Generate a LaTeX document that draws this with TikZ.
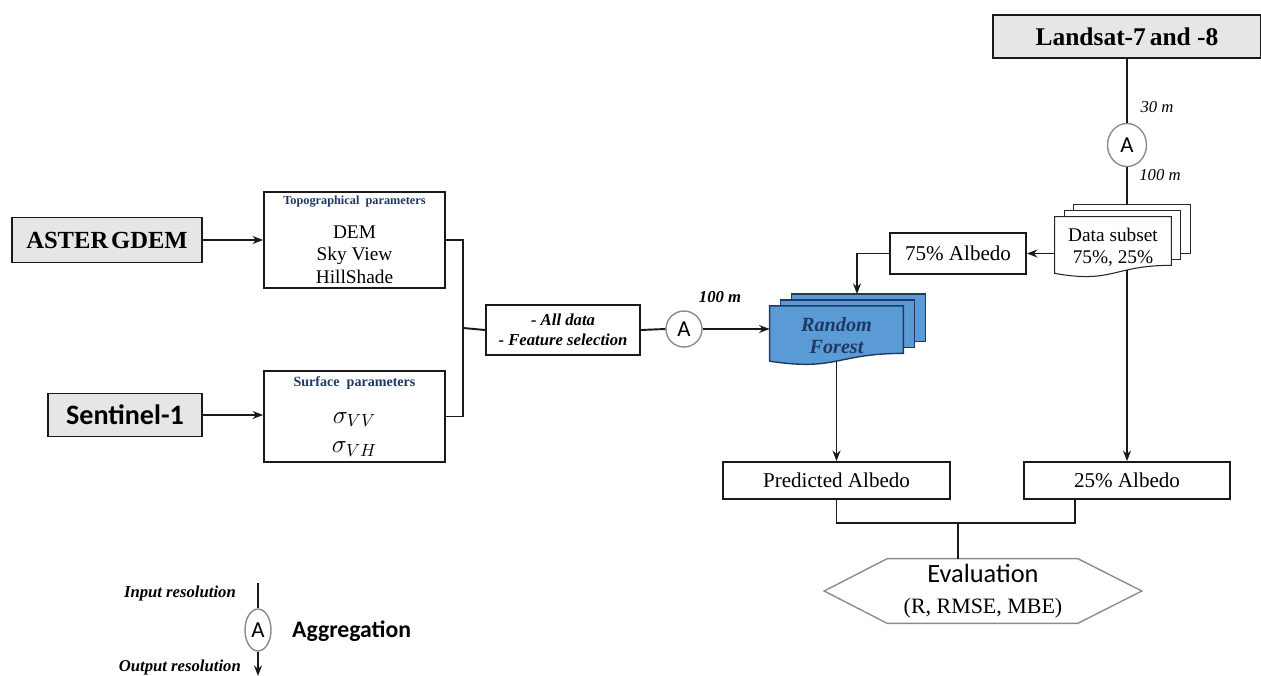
\documentclass[tikz,border=0pt]{standalone}
\usepackage{fontspec}
\setmainfont{Liberation Serif}
\newfontfamily\calibri{Carlito}
\usepackage{xcolor}
\usetikzlibrary{arrows.meta}
\usetikzlibrary{positioning}
\usetikzlibrary{calc}
\usetikzlibrary{shapes.geometric}
\usetikzlibrary{backgrounds}
\definecolor{srcgray}{HTML}{E7E6E6}
\definecolor{rfblue}{HTML}{5B9BD5}
\definecolor{navy}{HTML}{1F3864}
\definecolor{ringgray}{HTML}{8C8C8C}
\newcommand{\fsz}[2]{\fontsize{#1}{#2}\selectfont}
% stacked document shape round an invisible node: #1 node, #2/#3 offset, #4 look
\newcommand{\multidoc}[4]{%
  \foreach \k in {2,1} {
    \draw[#4] ($(#1.north west)+(\k*#2,\k*#3)$) rectangle ($(#1.north east)!0.802!(#1.south east)+(\k*#2,\k*#3)$);
  }
  \draw[#4] (#1.north west) -- (#1.north east) -- ($(#1.north east)!0.802!(#1.south east)$)
    .. controls ($(#1.north)!0.802!(#1.south)$) and ($(#1.north)!1.107!(#1.south)$) .. ($(#1.north west)!0.934!(#1.south west)$) -- cycle;
}

\begin{document}
\begin{tikzpicture}[x=0.02cm, y=-0.02cm,
    conn/.style={line width=1.1pt, draw=black!90},
    arr/.style={conn, -{Stealth[length=6pt,width=4.5pt]}},
    plainbox/.style={draw=black!90, line width=1pt, fill=white, inner sep=1pt, align=center},
    srcbox/.style={plainbox, fill=srcgray, font=\rmfamily\bfseries\fsz{14}{17}},
    docnode/.style={inner sep=0pt, align=center},
    ring/.style={ellipse, draw=ringgray, line width=0.8pt, fill=white, inner sep=0pt, font=\calibri\fsz{13}{15}},
    lbl/.style={font=\itshape\fsz{9.5}{11}},
    lblb/.style={font=\bfseries\itshape\fsz{9.5}{11}}]
  \useasboundingbox (0,0) rectangle (1261,676);

  % input data
  \node[srcbox, minimum width=3.8cm, minimum height=0.9cm] (aster) at (107,240) {ASTER\hspace{0.12em}GDEM};
  \node[srcbox, font=\calibri\bfseries\fsz{16}{19}, minimum width=3.08cm, minimum height=0.86cm] (sent) at (125,415) {Sentinel-1};
  \node[srcbox, font=\rmfamily\bfseries\fsz{14.5}{17}, minimum width=5.36cm, minimum height=0.86cm] (land) at (1127,36.5) {Landsat-7\hspace{0.15em}and -8};

  % parameters
  \node[plainbox, font=\fsz{11}{13}, minimum width=3.62cm, minimum height=1.92cm] (topo) at (354.5,240)
    {{\fsz{7}{8}\color{navy}\textbf{Topographical\ \ parameters}}\\[6pt]DEM\\Sky View\\HillShade};
  \node[plainbox, font=\fsz{14}{17}, minimum width=3.62cm, minimum height=1.82cm] (surf) at (354.5,416.5)
    {{\fsz{8}{9}\color{navy}\textbf{Surface\ \ parameters}}\\[4pt]$\sigma_{VV}$\\$\sigma_{VH}$};
  \coordinate (jL) at (463,328);

  \node[plainbox, font=\bfseries\itshape\fsz{9.5}{11.3}, minimum width=3.08cm, minimum height=1cm] (data) at (563,330)
    {- All data\\- Feature selection};
  \node[ring, minimum width=0.72cm, minimum height=0.72cm] (a1) at (684,329) {A};
  \node[lblb] (res1) at (720,297) {100 m};

  % random forest and data subset
  \node[docnode, font=\bfseries\itshape\fsz{11.5}{12.5}, text=navy, minimum width=2.66cm, minimum height=1.17cm] (rf) at (836.5,335.5) {Random\\Forest};
  \node[docnode, font=\fsz{11}{12.5}, minimum width=2.32cm, minimum height=1.2cm] (ds) at (1113,247) {Data subset\\75\%, 25\%};
  \coordinate (rfTop) at (857,294);
  \coordinate (dsTop) at (1127,205);
  \begin{scope}[on background layer]
    \multidoc{rf}{11}{-6}{fill=rfblue, draw=navy, line width=0.8pt}
    \multidoc{ds}{9.5}{-6}{fill=white, draw=black!85, line width=0.6pt}
  \end{scope}

  \node[ring, minimum width=0.78cm, minimum height=0.86cm] (a2) at (1127,145) {A};
  \node[lbl] (res2) at (1157,107) {30 m};
  \node[lbl] (res3) at (1160,175) {100 m};

  \node[plainbox, font=\fsz{12}{14}, minimum width=2.72cm, minimum height=0.82cm] (alb75) at (958,253.5) {75\% Albedo};
  \node[plainbox, font=\fsz{12}{14}, minimum width=4.54cm, minimum height=0.74cm] (pred) at (836.5,480.5) {Predicted Albedo};
  \node[plainbox, font=\fsz{12}{14}, minimum width=4.12cm, minimum height=0.74cm] (pct25) at (1127,480.5) {25\% Albedo};
  \coordinate (jB) at (958,523);

  % evaluation
  \node[inner sep=0pt, align=center, font=\fsz{12.5}{17.5}, minimum width=6.34cm, minimum height=1.28cm] (eval) at (983,591)
    {{\calibri\fsz{15}{18}Evaluation}\\(R, RMSE, MBE)};
  \draw[draw=ringgray, line width=0.8pt] (eval.west) -- ($(eval.north west)+(63,0)$) -- ($(eval.north east)+(-64,0)$)
    -- (eval.east) -- ($(eval.south east)+(-64,0)$) -- ($(eval.south west)+(63,0)$) -- cycle;

  % connectors
  \draw[arr] (aster.east) -- (topo.west);
  \draw[arr] (sent.east) -- (sent.east -| surf.west);
  \draw[conn] (topo.east) -| (jL) |- (surf.east);
  \draw[conn] (jL) -- (data.west);
  \draw[conn] (data.east) -- (a1.west);
  \draw[arr] (a1.east) -- (a1.east -| rf.west);
  \draw[conn] (land.south) -- (a2.north);
  \draw[conn] (a2.south) -- (dsTop);
  \draw[arr] (ds.west |- alb75.east) -- (alb75.east);
  \draw[arr] (alb75.west) -| (rfTop);
  \draw[arr] ($(rf.south)+(0,-4)$) -- (pred.north);
  \draw[arr] ($(ds.north -| pct25.north)!0.88!(ds.south -| pct25.north)$) -- (pct25.north);
  \draw[conn] (pred.south) |- (jB);
  \draw[conn] (jB) -| ($(pct25.south west)!0.25!(pct25.south east)$);
  \draw[conn] (jB) -- (jB |- eval.north);

  % legend
  \coordinate (legIn) at (258,583);
  \coordinate (legOut) at (258,676);
  \node[ring, minimum width=0.52cm, minimum height=0.84cm] (leg) at (258,630) {A};
  \draw[conn] (legIn) -- (leg.north);
  \draw[arr] (leg.south) -- (legOut);
  \node[lblb, anchor=east] (legin) at (242,593) {Input resolution};
  \node[lblb, anchor=east] (legout) at (247,667) {Output resolution};
  \node[font=\calibri\bfseries\fsz{13.5}{16}, anchor=west] (aggr) at (286,631) {Aggregation};
\end{tikzpicture}
\end{document}
